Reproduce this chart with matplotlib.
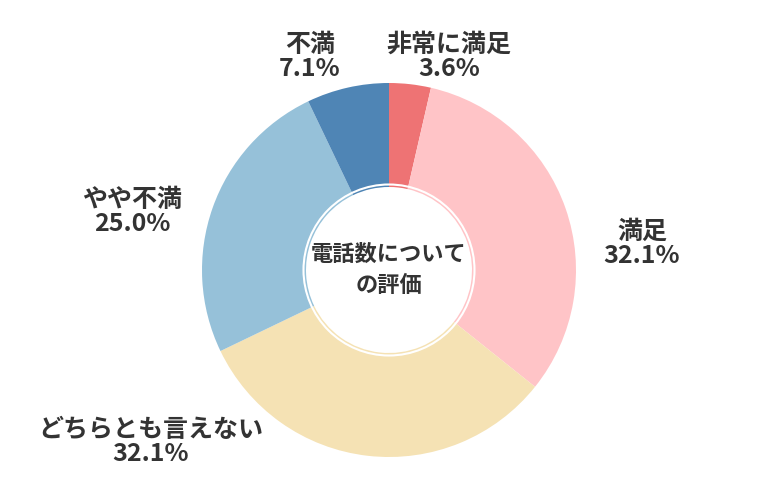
import matplotlib.pyplot as plt
from matplotlib.patches import Circle

plt.rcParams['font.family'] = ['Noto Sans CJK JP', 'DejaVu Sans']

# data
labels = ["非常に満足", "満足", "どちらとも言えない", "やや不満", "不満"]
values = [3.6, 32.1, 32.1, 25.0, 7.1]
colors = ["#EE7374", "#FFC4C7", "#F5E2B4", "#96C1D9", "#4F85B5"]
center_title = "電話数について\nの評価"

# label anchor points (pixels, y measured from the top)
label_pos = [(449, 57), (642, 244), (151, 442), (132, 212), (310, 57)]

fig = plt.figure(figsize=(7.8, 5), dpi=100)
ax = fig.add_axes([0, 0, 1, 1])

cx, cy = 389, 500 - 270
r_out, r_in = 187, 83

ax.pie(values, colors=colors, startangle=90, counterclock=False,
       radius=r_out, center=(cx, cy),
       wedgeprops=dict(width=r_out - r_in, linewidth=0))
ax.set_xlim(0, 780)
ax.set_ylim(0, 500)
ax.set_aspect('equal')
ax.axis('off')

# thin white ring just outside the hole
ax.add_patch(Circle((cx, cy), r_in + 2.5, fill=False, edgecolor="white", linewidth=1.5, zorder=3))

for lab, val, (x, y) in zip(labels, values, label_pos):
    ax.text(x, 500 - y, f"{lab}\n{val:.1f}%", ha='center', va='center', fontsize=18,
            fontweight='bold', color="#333333", linespacing=1.0)

ax.text(cx, cy, center_title, ha='center', va='center', fontsize=16,
        fontweight='bold', color="#333333", linespacing=1.45)

fig.savefig("out.png", dpi=100)
